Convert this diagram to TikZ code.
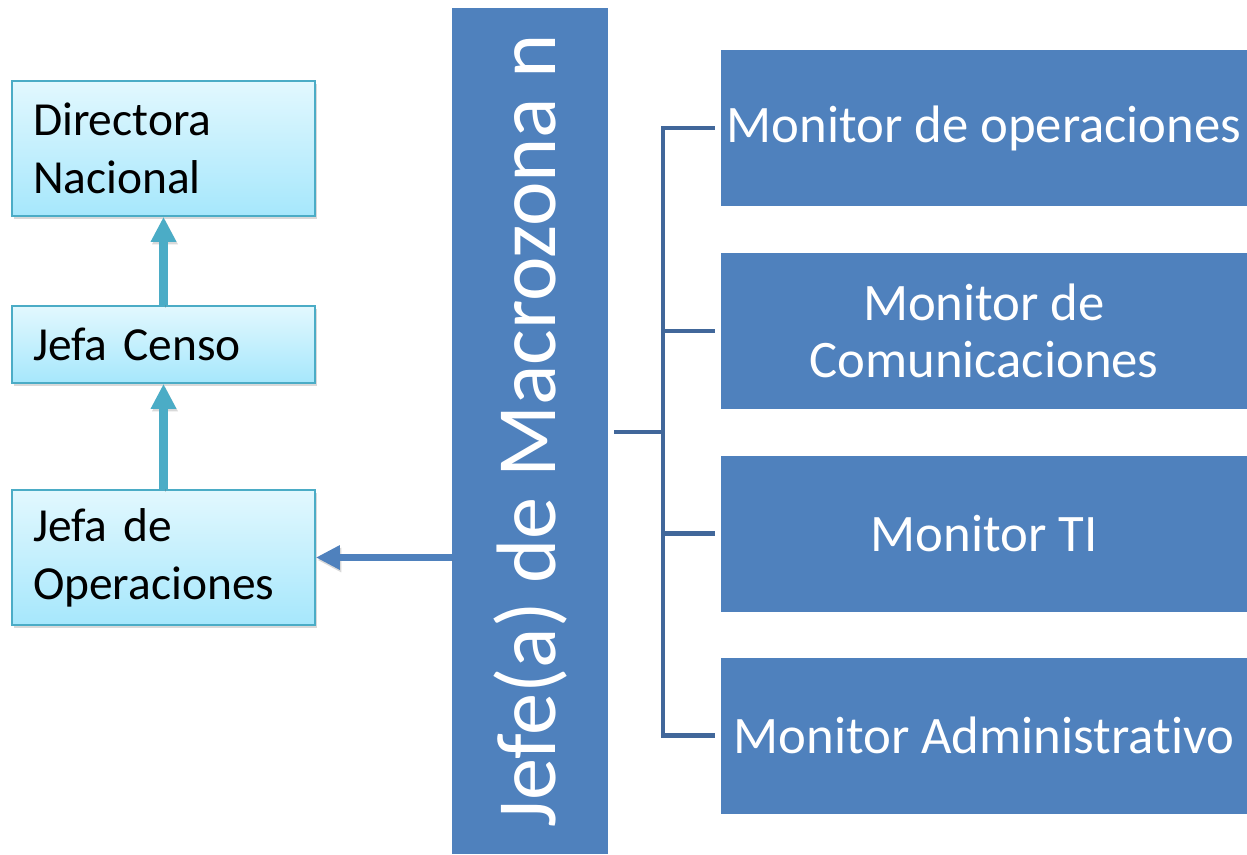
\documentclass[tikz,border=0pt]{standalone}
\usepackage{fontspec}
\setmainfont[Ligatures=NoCommon]{Carlito}
\usepackage{tikz}
\usetikzlibrary{shadows,arrows.meta}

\definecolor{boxblue}{HTML}{4F81BD}
\definecolor{forkblue}{HTML}{41679A}
\definecolor{teal}{HTML}{4BACC6}
\definecolor{cyantop}{HTML}{E2F8FE}
\definecolor{cyanbot}{HTML}{A6E7FC}

\tikzset{
  chiefbox/.style={draw=teal, line width=1pt, top color=cyantop, bottom color=cyanbot,
    minimum width=6.06cm, text width=5.22cm, align=left, inner xsep=0.42cm,
    font=\fontsize{27}{33}\selectfont,
    drop shadow={shadow xshift=0.04cm, shadow yshift=-0.05cm, opacity=0.3}},
  monitorbox/.style={fill=boxblue, text=white, minimum width=10.52cm, minimum height=3.12cm,
    align=center, inner sep=0pt, font=\fontsize{30}{32.5}\selectfont},
  arrowshade/.style={preaction={draw=black!60, opacity=0.25,
    transform canvas={shift={(0.03cm,-0.05cm)}}}},
  uparrow/.style={draw=teal, line width=5pt, -{Triangle[length=0.5cm,width=0.48cm]}},
  fork/.style={draw=forkblue, line width=2.3pt}
}

\begin{document}
\begin{tikzpicture}
\useasboundingbox (0cm,0cm) rectangle (24.94cm,-17.08cm);
% left column
\node[chiefbox, minimum height=2.70cm] (directora) at (3.27cm,-2.97cm) {Directora\\Nacional};
\node[chiefbox, minimum height=1.54cm] (censo) at (3.27cm,-6.89cm) {Jefa Censo};
\node[chiefbox, minimum height=2.70cm] (jefaop) at (3.27cm,-11.15cm) {Jefa de\\Operaciones};
\draw[uparrow, arrowshade] (jefaop.north) -- (censo.south);
\draw[uparrow, arrowshade] (censo.north) -- (directora.south);

% the tall bar
\node[fill=boxblue, text=white, minimum width=3.12cm, minimum height=16.92cm, inner sep=0pt,
  font=\fontsize{48}{50}\selectfont] (jefe) at (10.60cm,-8.62cm)
  {\rotatebox{90}{Jefe(a) de Macrozona n}};
\draw[draw=boxblue, line width=4pt, -{Triangle[length=0.48cm,width=0.46cm]}, arrowshade]
  (jefe.west |- jefaop) -- (jefaop.east);

% monitors
\node[monitorbox] (mop) at (19.68cm,-2.56cm) {Monitor de operaciones};
\node[monitorbox] (mcom) at (19.68cm,-6.62cm) {Monitor de\\Comunicaciones};
\node[monitorbox] (mti) at (19.68cm,-10.67cm) {Monitor TI};
\node[monitorbox] (madm) at (19.68cm,-14.71cm) {Monitor Administrativo};

\coordinate (split) at (13.26cm,-8.64cm);
\draw[fork] ([xshift=0.12cm]jefe.east |- split) -- (split);
\draw[fork] ([xshift=-0.12cm]mop.west) -| (split) |- ([xshift=-0.12cm]madm.west);
\draw[fork] (split |- mcom) -- ([xshift=-0.12cm]mcom.west);
\draw[fork] (split |- mti) -- ([xshift=-0.12cm]mti.west);
\end{tikzpicture}
\end{document}
